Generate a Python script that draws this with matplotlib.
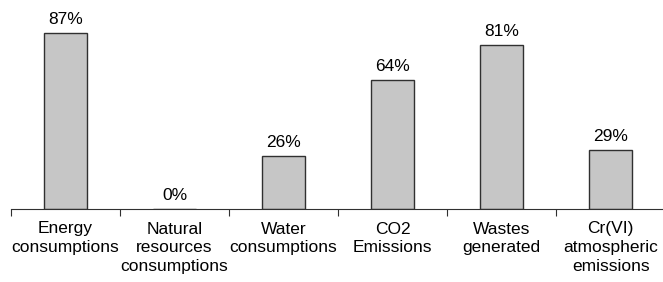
import matplotlib.pyplot as plt
import numpy as np

plt.rcParams['font.family'] = ['Liberation Sans', 'DejaVu Sans']

categories = ['Energy\nconsumptions', 'Natural\nresources\nconsumptions', 'Water\nconsumptions',
              'CO2\nEmissions', 'Wastes\ngenerated', 'Cr(VI)\natmospheric\nemissions']
values = [87, 0, 26, 64, 81, 29]

fig = plt.figure(figsize=(6.63, 2.82), dpi=100)
ax = fig.add_axes([11 / 663, 73 / 282, 652 / 663, 202 / 282])

x = np.arange(len(categories))
ax.bar(x, values, width=0.4, color='#c6c6c6', edgecolor='#303030', linewidth=1.0)
for xi, v in zip(x, values):
    ax.text(xi, v + 3, '%d%%' % v, ha='center', va='bottom', fontsize=12.5)

ax.set_xlim(-0.5, 5.48)
ax.set_ylim(0, 100)
ax.set_yticks([])
for s in ['top', 'right', 'left']:
    ax.spines[s].set_visible(False)
ax.spines['bottom'].set_color('#303030')
ax.set_xticks(np.arange(-0.5, 5.5, 1.0))
ax.set_xticklabels([])
ax.tick_params(axis='x', direction='out', length=5, color='#303030')
ax.set_xticks(x, minor=True)
ax.set_xticklabels(categories, minor=True, fontsize=12.5, linespacing=1.32)
ax.tick_params(axis='x', which='minor', length=0, pad=9)

fig.savefig('out.png', dpi=100)
